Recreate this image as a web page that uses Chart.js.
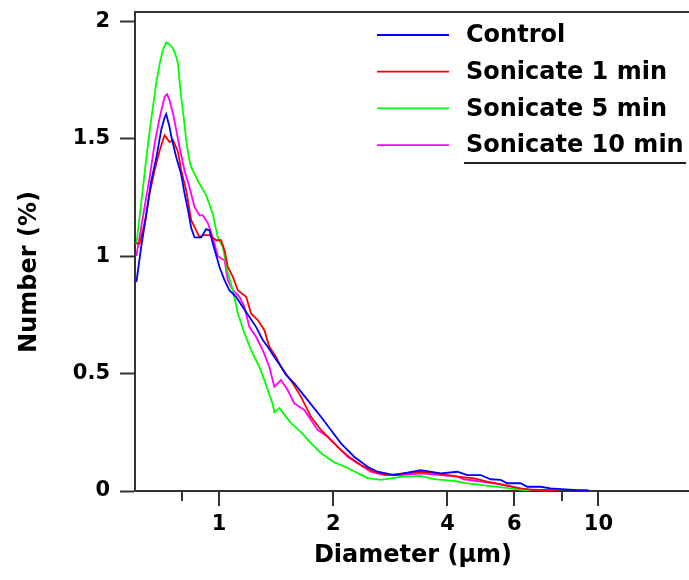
<!DOCTYPE html>
<html><head><meta charset="utf-8">
<script src="https://cdn.jsdelivr.net/npm/chart.js@4/dist/chart.umd.min.js"></script>
<style>html,body{margin:0;padding:0;background:#fff}#wrap{width:689px;height:580px;position:relative}</style>
</head><body><div id="wrap"><canvas id="c" width="689" height="580"></canvas></div>
<script>
const seriesNames = ['Control', 'Sonicate 1 min', 'Sonicate 5 min', 'Sonicate 10 min'];
const seriesColors = ['#0000ff', '#ff0000', '#00ff00', '#ff00ff'];

// [diameter (µm), number (%)]
const control = [[0.605,0.89],[0.623,1.04],[0.643,1.18],[0.662,1.32],[0.683,1.42],[0.704,1.54],[0.718,1.59],[0.725,1.605],[0.740,1.55],[0.748,1.51],[0.771,1.42],[0.794,1.35],[0.810,1.27],[0.827,1.20],[0.844,1.12],[0.861,1.08],[0.870,1.08],[0.897,1.08],[0.924,1.115],[0.943,1.11],[0.962,1.055],[0.992,0.98],[1.002,0.954],[1.033,0.898],[1.064,0.855],[1.108,0.827],[1.154,0.784],[1.201,0.742],[1.251,0.699],[1.303,0.643],[1.343,0.614],[1.398,0.571],[1.456,0.529],[1.501,0.494],[1.578,0.458],[1.712,0.387],[1.855,0.316],[1.971,0.26],[2.095,0.203],[2.270,0.146],[2.462,0.103],[2.616,0.082],[2.893,0.068],[3.401,0.089],[3.840,0.075],[4.248,0.082],[4.513,0.068],[4.892,0.068],[5.198,0.05],[5.523,0.047],[5.751,0.033],[6.233,0.033],[6.493,0.018],[7.038,0.018],[7.476,0.011],[8.789,0.004],[9.412,0.004]];
const sonicate1 = [[0.605,1.054],[0.617,1.054],[0.636,1.14],[0.656,1.27],[0.676,1.366],[0.697,1.45],[0.718,1.515],[0.740,1.486],[0.756,1.494],[0.779,1.444],[0.794,1.366],[0.819,1.28],[0.844,1.153],[0.870,1.11],[0.888,1.08],[0.906,1.09],[0.943,1.09],[0.982,1.068],[1.012,1.068],[1.033,1.026],[1.054,0.954],[1.087,0.912],[1.120,0.855],[1.178,0.827],[1.214,0.756],[1.264,0.728],[1.316,0.685],[1.356,0.614],[1.413,0.571],[1.456,0.529],[1.547,0.47],[1.644,0.401],[1.746,0.316],[1.855,0.26],[1.971,0.217],[2.095,0.174],[2.226,0.139],[2.364,0.111],[2.563,0.082],[2.780,0.068],[3.074,0.075],[3.401,0.082],[3.764,0.075],[4.248,0.061],[4.698,0.054],[5.095,0.04],[5.635,0.026],[6.233,0.011],[6.624,0.006],[7.786,0.004]];
const sonicate5 = [[0.605,1.05],[0.617,1.167],[0.630,1.295],[0.643,1.42],[0.656,1.536],[0.669,1.635],[0.683,1.74],[0.697,1.82],[0.711,1.88],[0.725,1.91],[0.740,1.902],[0.756,1.885],[0.771,1.848],[0.779,1.82],[0.786,1.749],[0.794,1.68],[0.810,1.565],[0.819,1.49],[0.835,1.408],[0.844,1.38],[0.879,1.32],[0.924,1.26],[0.962,1.18],[0.992,1.08],[1.023,1.038],[1.054,0.928],[1.087,0.855],[1.120,0.757],[1.166,0.672],[1.214,0.6],[1.277,0.528],[1.316,0.472],[1.343,0.43],[1.384,0.37],[1.398,0.336],[1.441,0.353],[1.547,0.289],[1.644,0.251],[1.746,0.204],[1.855,0.162],[2.007,0.123],[2.182,0.098],[2.462,0.055],[2.669,0.047],[3.013,0.06],[3.401,0.064],[3.681,0.051],[4.153,0.043],[4.421,0.035],[5.198,0.021],[5.867,0.011],[6.348,0.004],[6.624,0.0]];
const sonicate10 = [[0.605,1.0],[0.636,1.21],[0.656,1.337],[0.676,1.48],[0.697,1.59],[0.718,1.678],[0.729,1.69],[0.740,1.664],[0.756,1.607],[0.771,1.536],[0.786,1.465],[0.810,1.366],[0.835,1.295],[0.861,1.21],[0.888,1.174],[0.906,1.174],[0.934,1.14],[0.962,1.08],[0.992,1.0],[1.033,0.983],[1.054,0.898],[1.087,0.855],[1.131,0.827],[1.166,0.784],[1.201,0.699],[1.251,0.657],[1.303,0.6],[1.356,0.529],[1.384,0.472],[1.398,0.444],[1.456,0.472],[1.516,0.43],[1.578,0.373],[1.677,0.345],[1.746,0.302],[1.818,0.26],[1.932,0.231],[2.053,0.189],[2.182,0.146],[2.317,0.118],[2.512,0.082],[2.723,0.068],[3.013,0.068],[3.401,0.075],[3.840,0.068],[4.248,0.061],[4.421,0.05],[5.413,0.03],[6.348,0.007],[7.614,0.003]];

const xTickValues = [0.8, 1, 2, 4, 6, 8, 10];
const xTickLabels = ['', '1', '2', '4', '6', '', '10'];
const yTickValues = [0, 0.5, 1, 1.5, 2];
const yTickLabels = ['0', '0.5', '1', '1.5', '2'];
const xTitle = 'Diameter (µm)';
const yTitle = 'Number (%)';

const allSeries = [control, sonicate1, sonicate5, sonicate10];
const FONT = 'DejaVu Sans';
const AXIS = '#333333';

const datasets = allSeries.map((s, i) => ({
  label: seriesNames[i],
  data: s.map(p => ({x: p[0], y: p[1]})),
  borderColor: seriesColors[i],
  backgroundColor: seriesColors[i],
  borderWidth: 1.8,
  pointRadius: 0,
  tension: 0,
  fill: false
}));

const decor = {
  id: 'decor',
  afterDraw(chart) {
    const ctx = chart.ctx;
    const xs = chart.scales.x;
    const ca = chart.chartArea;
    ctx.save();
    // x tick marks (major longer, minor shorter)
    ctx.strokeStyle = AXIS;
    ctx.lineWidth = 2;
    xTickValues.forEach((v, i) => {
      const px = Math.round(xs.getPixelForValue(v));
      const len = xTickLabels[i] ? 15 : 10;
      ctx.beginPath();
      ctx.moveTo(px, ca.bottom);
      ctx.lineTo(px, ca.bottom + len);
      ctx.stroke();
    });
    // axis titles
    ctx.fillStyle = '#000';
    ctx.font = 'bold 24px "' + FONT + '"';
    ctx.textAlign = 'center';
    ctx.textBaseline = 'middle';
    ctx.fillText(xTitle, 413, 556);
    ctx.save();
    ctx.translate(30, 272);
    ctx.rotate(-Math.PI / 2);
    ctx.fillText(yTitle, 0, 0);
    ctx.restore();
    // legend
    ctx.textAlign = 'left';
    chart.data.datasets.forEach((ds, i) => {
      const y = 35 + i * 36.7;
      ctx.strokeStyle = ds.borderColor;
      ctx.lineWidth = 1.8;
      ctx.beginPath();
      ctx.moveTo(377, y);
      ctx.lineTo(449, y);
      ctx.stroke();
      ctx.fillStyle = '#000';
      ctx.fillText(ds.label, 466, y + 1);
    });
    ctx.strokeStyle = '#222';
    ctx.lineWidth = 2;
    ctx.beginPath();
    ctx.moveTo(464, 163);
    ctx.lineTo(686, 163);
    ctx.stroke();
    ctx.restore();
  }
};

new Chart(document.getElementById('c'), {
  type: 'line',
  data: {datasets},
  options: {
    responsive: false,
    animation: false,
    devicePixelRatio: 1,
    layout: {padding: {top: 12, right: 0, bottom: 0, left: 0}},
    plugins: {legend: {display: false}, tooltip: {enabled: false}},
    scales: {
      x: {
        type: 'logarithmic',
        position: 'bottom',
        min: 0.605,
        max: 17.33,
        afterBuildTicks: s => { s.ticks = xTickValues.map(v => ({value: v})); },
        ticks: {
          autoSkip: false, maxRotation: 0, minRotation: 0, padding: 21,
          color: '#000', font: {family: FONT, weight: 'bold', size: 21},
          callback: (v, i) => xTickLabels[i]
        },
        grid: {display: true, drawOnChartArea: false, drawTicks: false},
        border: {display: true, color: AXIS, width: 2},
        afterFit: s => { s.height = 89; s.paddingLeft = 0; s.paddingRight = 0; }
      },
      x2: {
        type: 'linear',
        position: 'top',
        min: 0, max: 1,
        ticks: {display: false},
        grid: {display: false, drawTicks: false},
        border: {display: true, color: AXIS, width: 2},
        afterFit: s => { s.height = 0; s.paddingLeft = 0; s.paddingRight = 0; }
      },
      y: {
        type: 'linear',
        position: 'left',
        min: 0,
        max: 2.04,
        afterBuildTicks: s => { s.ticks = yTickValues.map(v => ({value: v})); },
        ticks: {
          padding: 10, color: '#000', font: {family: FONT, weight: 'bold', size: 21},
          callback: (v, i) => yTickLabels[i]
        },
        grid: {display: true, drawOnChartArea: false, drawTicks: true, tickLength: 15, tickColor: AXIS, tickWidth: 2},
        border: {display: true, color: AXIS, width: 2},
        afterFit: s => { s.width = 135; s.paddingTop = 0; s.paddingBottom = 0; }
      }
    }
  },
  plugins: [decor]
});
</script>
</body></html>
